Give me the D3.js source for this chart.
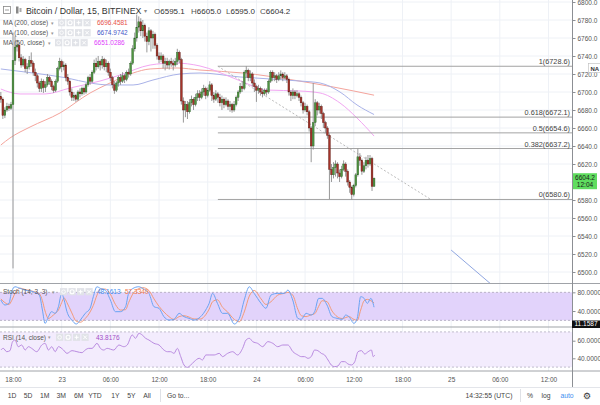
<!DOCTYPE html>
<html><head><meta charset="utf-8">
<script src="https://cdn.jsdelivr.net/npm/d3@7"></script>
<style>
html,body{margin:0;padding:0;background:#fff;}
svg{display:block;font-family:"Liberation Sans",Arial,sans-serif;}
</style></head><body>
<svg id="c" width="600" height="405"></svg>
<script>
// ---------------- DATA ----------------
const firstBarTime = Date.UTC(2018,7,22,16,30); // 15-minute bars
const firstOpen = 6695;
const closes = [6692,6674,6680,6684,6682,6686,6735,6750,6752,6738,6730,6736,6726,6728,6735,6732,6722,6718,6710,6704,
6712,6705,6708,6716,6712,6706,6702,6712,6726,6734,6728,6730,6716,6712,6700,6694,6696,6692,6700,6698,
6704,6700,6708,6716,6712,6722,6732,6728,6734,6730,6736,6728,6732,6722,6716,6708,6702,6710,6716,6712,
6718,6714,6722,6720,6732,6748,6760,6772,6778,6768,6774,6762,6756,6768,6760,6764,6752,6740,6736,6740,
6732,6734,6730,6734,6732,6730,6734,6744,6736,6690,6680,6686,6678,6688,6692,6686,6694,6698,6694,6700,
6704,6696,6702,6708,6696,6692,6698,6694,6688,6692,6686,6690,6684,6686,6680,6686,6694,6700,6706,6704,
6722,6724,6716,6720,6710,6706,6702,6704,6700,6698,6702,6700,6712,6722,6716,6718,6714,6718,6720,6716,
6718,6714,6700,6696,6700,6696,6698,6694,6688,6680,6684,6678,6660,6640,6666,6688,6680,6684,6676,6666,
6660,6652,6614,6608,6616,6620,6610,6606,6614,6620,6612,6600,6594,6586,6596,6608,6628,6624,6612,6618,
6624,6620,6626,6595.1,6604.2];
const highs = [6700,6694,6683,6688,6687,6689,6766,6762,6758,6755,6742,6740,6738,6732,6740,6744,6734,6726,6720,6712,
6715,6714,6712,6720,6718,6714,6708,6714,6728,6738,6736,6734,6732,6720,6714,6704,6700,6698,6702,6704,
6706,6706,6710,6718,6720,6724,6736,6738,6740,6736,6740,6738,6736,6734,6726,6718,6712,6712,6718,6720,
6722,6720,6724,6726,6734,6752,6766,6786,6784,6782,6780,6776,6766,6772,6770,6768,6766,6754,6744,6744,
6742,6738,6738,6736,6738,6736,6738,6748,6746,6738,6694,6690,6690,6692,6696,6694,6698,6702,6702,6704,
6708,6706,6705,6712,6710,6700,6702,6700,6698,6696,6694,6694,6692,6690,6688,6690,6696,6702,6710,6712,
6724,6728.6,6726,6724,6722,6714,6708,6708,6706,6704,6704,6704,6714,6724,6724,6722,6720,6722,6724,6722,
6722,6720,6716,6702,6704,6702,6702,6700,6696,6690,6688,6686,6680,6662,6710,6692,6690,6688,6686,6678,
6668,6662,6654,6620,6622,6624,6622,6614,6618,6624,6622,6614,6602,6596,6598,6610,6637,6632,6626,6622,
6628,6630,6630,6628,6605];
const lows = [6688,6670,6671,6678,6679,6680,6504,6730,6745,6734,6727,6728,6722,6720,6725,6728,6718,6712,6705,6700,
6700,6699,6700,6706,6708,6702,6699,6700,6710,6724,6722,6724,6712,6708,6696,6690,6690,6689,6690,6694,
6696,6697,6698,6706,6708,6710,6720,6724,6726,6724,6726,6724,6722,6718,6712,6704,6698,6700,6706,6708,
6710,6710,6712,6716,6718,6730,6745,6756,6766,6762,6760,6756,6744,6752,6745,6748,6748,6736,6732,6733,
6726,6724,6726,6725,6728,6724,6728,6730,6732,6686,6666,6672,6670,6676,6684,6680,6684,6690,6690,6692,
6696,6692,6694,6700,6690,6688,6690,6688,6684,6680,6682,6684,6680,6678,6677,6678,6684,6690,6698,6700,
6702,6716,6712,6712,6706,6700,6689,6698,6696,6694,6696,6696,6698,6710,6712,6712,6710,6712,6714,6712,
6714,6710,6696,6690,6692,6692,6694,6690,6684,6676,6678,6674,6656,6622,6636,6662,6674,6676,6670,6660,
6654,6648,6581,6600,6604,6606,6604,6600,6604,6612,6606,6596,6588,6580.6,6584,6594,6606,6618,6608,6610,
6614,6616,6618,6590,6595];

// moving averages (sampled at bar positions)
const ma200Bars = [0,4.5,14.4,29.2,44,53.8,65.2,73.6,86.9,98.2,119.4,144.1,163.8,184];
const ma200Vals = [6641.1,6648.9,6661.1,6676.7,6698.9,6710,6721.1,6725.6,6726.7,6724.4,6721.1,6713.3,6705.6,6696.46];
const ma100Bars = [0,15.9,32.6,44,53.8,65.2,75,88.3,98.2,117.9,147.5,157.4,167.2,175.6,184];
const ma100Vals = [6725.6,6721.1,6715.6,6710,6707.8,6707.8,6713.3,6720,6721.1,6716.7,6712.2,6710,6700,6685.6,6674.97];
const ma50Bars = [0,9.5,21.8,34.1,48.9,58.8,73.6,85.9,98.2,114.5,119.4,131.2,147.5,157.4,167.2,175.6,184];
const ma50Vals = [6703.3,6697.8,6697.8,6704.4,6712.2,6718.9,6730,6732.2,6728.9,6715.6,6711.1,6702.2,6701.1,6698.9,6687.8,6671.1,6651.03];

// stochastic (14,3,3)
const stochBars = [0,2,4,5.3,7,9.5,12,16,19,20.5,21.8,23.5,25,26.8,28.4,30,31.2,32.6,35,37.2,
39.2,41.6,44,45.6,47.4,49.1,51.5,54,56.5,59,61.5,63,65,68,70,73,75.5,78,80.4,82.9,
85.4,87.9,90.3,92.8,95.3,98.5,101,102.7,104.4,106.8,109.3,111.8,115.1,117.6,120,122.5,124.9,128.3,130.7,133.2,
136.5,139.8,141.5,143.9,146.4,148.1,150.5,153,154.7,156.7,158.4,160.8,163.3,165.8,168.3,170,171.6,174.1,175.7,177.4,
179.1,180.7,182.4,184];
const stochK = [63.6,52.9,56.4,81.3,91.9,88.4,84.8,81.3,74.2,42.1,13.6,27.9,38.6,35,49.3,77.8,63.6,38.6,20.7,12.2,
20.7,35,45.7,70.7,91.9,88.4,84.8,63.6,38.6,38.6,49.3,77.8,88,92,88,78,49.3,45.7,27.9,20.7,
22.2,35,27.9,24.3,20.7,27.9,42.1,56.4,77.8,56.4,35,35,12.2,24.3,63.6,91.9,77.8,56.4,45.7,74.2,
77.8,77.8,84.8,63.6,24.3,22.2,35,31.4,38.6,67.1,67.1,52.9,27.9,24.3,22.2,31.4,27.9,13.6,24.3,70.7,
67.1,56.4,67.1,48.16];
const stochD = [66,58,54,62,78,89,86,82,77,62,40,24,28,35,42,58,68,58,36,18,
16,24,38,52,74,87,87,76,54,42,43,58,76,88,90,84,66,50,38,28,
22,28,30,27,23,23,32,44,60,64,48,38,22,17,38,72,84,66,54,60,
74,78,80,74,44,30,28,32,34,50,62,60,40,28,24,26,28,22,20,42,
62,65,62,57.33];

// RSI (14, close)
const rsiBars = [0,1.2,2.9,4.5,5.8,7,8.6,10.3,12,13.6,15.2,17.7,20.2,21.8,23.5,25.1,26.8,28.4,30.9,32.6,
35.1,37.5,40,41.6,43.3,45,47.4,49.1,50.7,52.4,55.7,58.2,60.6,62.3,64.8,66.4,68.1,69.7,71.4,73,
75.5,78,80.4,82.1,83.7,85.4,87,88.7,90.3,92,93.6,95.3,97.8,99.4,101.1,102.7,105.2,107.7,109.3,111.8,
114.3,116.7,119.2,120.9,122.5,124.2,126.6,129.1,131.6,134.1,136.5,139,141.5,144,146.4,148.1,149.7,151.4,153,154.7,
156.3,158,159.6,161.3,162.9,164.6,166.2,167.9,169.5,171.2,172.8,174.5,176.1,177.8,179.4,181.1,182.7,183.6,184.4];
const rsiVals = [49.4,51.3,47.5,48.7,58.9,60.8,53.2,55.1,49.4,53.2,51.3,47.5,55.1,57.0,49.4,53.2,47.5,53.2,49.4,45.6,
48.7,47.5,46.4,49.4,51.3,51.3,57.0,51.3,49.4,51.3,49.4,55.1,53.2,55.1,66.5,62.7,68.4,66.5,62.7,60.8,
57.0,55.1,49.4,47.5,47.5,45.6,51.3,41.9,32.4,29.7,32.4,36.2,40.0,38.1,43.8,43.8,43.8,45.6,41.9,45.6,
47.5,43.8,51.3,60.8,62.7,58.9,57.0,53.2,58.9,57.0,53.2,55.1,55.1,47.5,43.8,41.9,41.9,40.0,41.9,49.4,
48.7,45.6,43.8,38.1,32.4,30.5,31.3,36.2,36.2,33.5,32.4,36.2,47.5,48.7,44.9,47.5,49.4,41.9,43.8];

// fibonacci retracement
const fibStart = Date.UTC(2018,7,23,19,15), fibEnd = Date.UTC(2018,7,24,21,30);
const fibHigh = 6728.6, fibLow = 6580.6;
const fibRatios = [1,0.618,0.5,0.382,0];
const fibPrices = [6728.6,6672.1,6654.6,6637.2,6580.6];
// blue trend line drawing
const trendStart = [Date.UTC(2018,7,25,0,0), 6524.4], trendEnd = [Date.UTC(2018,7,25,5,30), 6482];

const priceTicks = d3.range(6500, 6801, 20);
const timeTicks = [[2018,7,22,18],[2018,7,23,0],[2018,7,23,6],[2018,7,23,12],[2018,7,23,18],[2018,7,24,0],
[2018,7,24,6],[2018,7,24,12],[2018,7,24,18],[2018,7,25,0],[2018,7,25,6],[2018,7,25,12]];
const timeLabels = ["18:00","23","06:00","12:00","18:00","24","06:00","12:00","18:00","25","06:00","12:00"];
const rangeButtons = ["1D","5D","1M","3M","6M","YTD","1Y","5Y","All"];
const rangeX = [12,28,44.7,61.3,78.7,95,115.3,131.3,147];
const maLegend = [["MA (200, close)","6696.4581","#e8514a"],["MA (100, close)","6674.9742","#4656c8"],["MA (50, close)","6651.0286","#e040fb"]];
const ohlc = [["O","6595.1"],["H","6605.0"],["L","6595.0"],["C","6604.2"]];

// ---------------- DRAW ----------------
const svg = d3.select('#c');
const PX = 572, MAIN_BOT = 283;
const barMs = 15*60*1000;
const x = d3.scaleUtc().domain([new Date(Date.UTC(2018,7,22,18)), new Date(Date.UTC(2018,7,25,12))]).range([13, 548.5]);
const y = d3.scaleLinear().domain([6500, 6800]).range([272, 2]);
const yS = d3.scaleLinear().domain([0,100]).range([329.7, 283]);
const yR = d3.scaleLinear().domain([30,70]).range([367.1, 331.9]);
const bx = i => x(new Date(firstBarTime + i*barMs));
const tickDates = timeTicks.map(a => new Date(Date.UTC(a[0],a[1],a[2],a[3])));
const last = closes[closes.length-1];

const defs = svg.append('defs');
defs.append('clipPath').attr('id','cm').append('rect').attr('x',0).attr('y',0).attr('width',PX).attr('height',MAIN_BOT);
defs.append('clipPath').attr('id','cs').append('rect').attr('x',0).attr('y',284).attr('width',PX).attr('height',42);
defs.append('clipPath').attr('id','cr').append('rect').attr('x',0).attr('y',328).attr('width',PX).attr('height',42);

// grid
const grid = svg.append('g');
grid.selectAll('.vg').data(tickDates).join('line')
  .attr('x1',d=>x(d)).attr('x2',d=>x(d)).attr('y1',0).attr('y2',371)
  .attr('stroke','#eef1f6').attr('stroke-width',1);
grid.selectAll('.hg').data(priceTicks).join('line')
  .attr('x1',0).attr('x2',PX).attr('y1',d=>y(d)).attr('y2',d=>y(d))
  .attr('stroke','#eef1f6');

// main pane
const main = svg.append('g').attr('clip-path','url(#cm)');
const lineP = (bars, vals) => d3.line().curve(d3.curveMonotoneX)(bars.map((b,k)=>[bx(b), y(vals[k])]));
main.append('path').attr('d', lineP(ma200Bars, ma200Vals)).attr('fill','none').attr('stroke','#f4a49c').attr('stroke-width',1);
main.append('path').attr('d', lineP(ma100Bars, ma100Vals)).attr('fill','none').attr('stroke','#a9b2e8').attr('stroke-width',1);
main.append('path').attr('d', lineP(ma50Bars, ma50Vals)).attr('fill','none').attr('stroke','#f2a6f2').attr('stroke-width',1);

// fib
const fx0 = x(new Date(fibStart)), fx1 = x(new Date(fibEnd));
main.selectAll('.fib').data(fibPrices).join('line')
  .attr('x1',fx0).attr('x2',PX).attr('y1',d=>y(d)).attr('y2',d=>y(d))
  .attr('stroke','#a3a3a3').attr('stroke-width',1);
main.append('line').attr('x1',fx0).attr('y1',y(fibHigh)).attr('x2',fx1).attr('y2',y(fibLow))
  .attr('stroke','#aaa').attr('stroke-width',0.8).attr('stroke-dasharray','2,2');
main.selectAll('.fibt').data(fibPrices).join('text')
  .attr('x',570).attr('y',d=>y(d)-2).attr('text-anchor','end')
  .attr('font-size',7.3).attr('fill','#444')
  .text((d,k)=>fibRatios[k] + '(' + d.toFixed(1) + ')');
// trend line
main.append('line').attr('x1',x(new Date(trendStart[0]))).attr('y1',y(trendStart[1]))
  .attr('x2',x(new Date(trendEnd[0]))).attr('y2',y(trendEnd[1]))
  .attr('stroke','#8fa6e0').attr('stroke-width',1);

// candles
const bars = closes.map((c,i)=>({i, o: i?closes[i-1]:firstOpen, h: highs[i], l: lows[i], c}));
main.selectAll('.wick').data(bars).join('line')
  .attr('x1',d=>bx(d.i)).attr('x2',d=>bx(d.i)).attr('y1',d=>y(d.h)).attr('y2',d=>y(d.l))
  .attr('stroke','#8c8c8c').attr('stroke-width',0.9);
main.selectAll('.body').data(bars).join('rect')
  .attr('x',d=>bx(d.i)-0.9).attr('width',1.8)
  .attr('y',d=>y(Math.max(d.o,d.c)))
  .attr('height',d=>Math.max(0.8, Math.abs(y(d.o)-y(d.c))))
  .attr('fill',d=>d.c>=d.o?'#4f9440':'#a5332a')
  .attr('stroke',d=>d.c>=d.o?'#2e5f2a':'#5b1a13').attr('stroke-width',0.4);

// stoch pane
const st = svg.append('g').attr('clip-path','url(#cs)');
st.append('rect').attr('x',0).attr('width',PX).attr('y',yS(80)).attr('height',yS(20)-yS(80)).attr('fill','#e2d3fb');
[80,20].forEach(v=>st.append('line').attr('x1',0).attr('x2',PX).attr('y1',yS(v)).attr('y2',yS(v))
  .attr('stroke','#a9a4b8').attr('stroke-dasharray','2,2').attr('stroke-width',0.8));
const lineS = (vals, sc, barsArr) => d3.line().curve(d3.curveMonotoneX)(barsArr.map((b,k)=>[bx(b), sc(vals[k])]));
st.append('path').attr('d', lineS(stochD, yS, stochBars)).attr('fill','none').attr('stroke','#f39a78').attr('stroke-width',1);
st.append('path').attr('d', lineS(stochK, yS, stochBars)).attr('fill','none').attr('stroke','#6aa3f3').attr('stroke-width',1);

// rsi pane
const rp = svg.append('g').attr('clip-path','url(#cr)');
rp.append('rect').attr('x',0).attr('width',PX).attr('y',yR(70)).attr('height',yR(30)-yR(70)).attr('fill','#f3ecfd');
[70,30].forEach(v=>rp.append('line').attr('x1',0).attr('x2',PX).attr('y1',yR(v)).attr('y2',yR(v))
  .attr('stroke','#b3aec0').attr('stroke-dasharray','2,2').attr('stroke-width',0.8));
rp.append('path').attr('d', lineS(rsiVals, yR, rsiBars)).attr('fill','none').attr('stroke','#b98ae0').attr('stroke-width',1);

// separators
[[283.5,'#a0a3a8',1.2],[327,'#a0a3a8',1.2],[371,'#a0a3a8',1]].forEach(s=>
  svg.append('line').attr('x1',0).attr('x2',600).attr('y1',s[0]).attr('y2',s[0]).attr('stroke',s[1]).attr('stroke-width',s[2]));
svg.append('line').attr('x1',PX+0.5).attr('x2',PX+0.5).attr('y1',0).attr('y2',387).attr('stroke','#8c8f94').attr('stroke-width',1);
svg.append('line').attr('x1',0).attr('x2',600).attr('y1',387.5).attr('y2',387.5).attr('stroke','#e3e5ea');

// price axis (labels hidden under the last-price box are skipped)
const lblTop = y(last)-5, lblBot = y(last)+11;
const visibleTicks = priceTicks.filter(v => y(v) < lblTop - 2 || y(v) > lblBot + 2);
const pa = svg.append('g').attr('transform',`translate(${PX+0.5},0)`)
  .call(d3.axisRight(y).tickValues(visibleTicks).tickFormat(d3.format('.1f')).tickSize(3).tickPadding(2));
pa.select('.domain').remove();
pa.selectAll('text').attr('font-size',6.5).attr('fill','#555').attr('font-family','Liberation Sans, Arial');
pa.selectAll('line').attr('stroke','#8c8f94');
const sa = svg.append('g').attr('transform',`translate(${PX+0.5},0)`)
  .call(d3.axisRight(yS).tickValues([80,40]).tickFormat(d3.format('.4f')).tickSize(3).tickPadding(2));
sa.select('.domain').remove();
sa.selectAll('text').attr('font-size',6.5).attr('fill','#555').attr('font-family','Liberation Sans, Arial');
sa.selectAll('line').attr('stroke','#8c8f94');
const ra = svg.append('g').attr('transform',`translate(${PX+0.5},0)`)
  .call(d3.axisRight(yR).tickValues([60,40]).tickFormat(d3.format('.4f')).tickSize(3).tickPadding(2));
ra.select('.domain').remove();
ra.selectAll('text').attr('font-size',6.5).attr('fill','#555').attr('font-family','Liberation Sans, Arial');
ra.selectAll('line').attr('stroke','#8c8f94');

// time axis
const ta = svg.append('g').attr('transform','translate(0,371)')
  .call(d3.axisBottom(x).tickValues(tickDates).tickFormat((d,i)=>timeLabels[i]).tickSize(0).tickPadding(6));
ta.select('.domain').remove();
ta.selectAll('text').attr('font-size',6.5).attr('fill','#555').attr('font-family','Liberation Sans, Arial');

// price labels on axis
svg.append('rect').attr('x',573).attr('y',lblTop).attr('width',24).attr('height',16).attr('fill','#5fdd5f');
svg.append('text').attr('x',585).attr('y',y(last)+2.2).attr('text-anchor','middle').attr('font-size',6.5).attr('fill','#1b1b1b').text(last.toFixed(1));
svg.append('text').attr('x',585).attr('y',y(last)+9.2).attr('text-anchor','middle').attr('font-size',6.5).attr('fill','#1b1b1b').text('12:04');
svg.append('rect').attr('x',572).attr('y',320.5).attr('width',28).attr('height',7.5).attr('fill','#111');
svg.append('text').attr('x',586).attr('y',326.4).attr('text-anchor','middle').attr('font-size',6.5).attr('fill','#fff').text('11.1587');
svg.append('rect').attr('x',588.5).attr('y',63.5).attr('width',14).attr('height',9).attr('fill','#fff').attr('stroke','#bbb').attr('stroke-width',0.6);
svg.append('text').attr('x',590.5).attr('y',70.5).attr('font-size',6).attr('font-weight','bold').attr('fill','#333').text('NA');

// header
const hd = svg.append('g');
hd.append('rect').attr('x',3.5).attr('y',6.5).attr('width',7).attr('height',7).attr('fill','#fff').attr('stroke','#888').attr('stroke-width',0.8);
hd.append('line').attr('x1',5).attr('x2',9).attr('y1',10).attr('y2',10).attr('stroke','#888').attr('stroke-width',0.8);
hd.append('rect').attr('x',16).attr('y',6.5).attr('width',2.5).attr('height',7).attr('fill','#888');
hd.append('rect').attr('x',19.5).attr('y',8).attr('width',2).attr('height',4).attr('fill','#aaa');
hd.append('text').attr('x',26).attr('y',13.5).attr('font-size',8.8).attr('fill','#333').text('Bitcoin / Dollar, 15, BITFINEX');
hd.append('text').attr('x',143.5).attr('y',12.5).attr('font-size',6).attr('fill','#888').text('▾');
const ohlcX = [154,191,226,260];
ohlc.forEach((o,k)=>{
  const t = hd.append('text').attr('x',ohlcX[k]).attr('y',13.5).attr('font-size',8);
  t.append('tspan').attr('fill','#555').text(o[0]);
  t.append('tspan').attr('fill','#333').text(o[1]);
});
function icons(g, x0, yc){
  for(let k=0;k<4;k++){
    const xx = x0 + k*8.5;
    g.append('rect').attr('x',xx).attr('y',yc-3.6).attr('width',7.2).attr('height',7.2).attr('fill','#e1e3e8');
    const cx = xx+3.6;
    if(k===0) g.append('circle').attr('cx',cx).attr('cy',yc).attr('r',1.8).attr('fill','none').attr('stroke','#fff').attr('stroke-width',0.8);
    if(k===1) g.append('circle').attr('cx',cx).attr('cy',yc).attr('r',2).attr('fill','none').attr('stroke','#fff').attr('stroke-width',1.1);
    if(k===2){ g.append('line').attr('x1',cx-2).attr('x2',cx+2).attr('y1',yc).attr('y2',yc).attr('stroke','#fff').attr('stroke-width',1);
               g.append('line').attr('x1',cx).attr('x2',cx).attr('y1',yc-2).attr('y2',yc+2).attr('stroke','#fff').attr('stroke-width',1);}
    if(k===3){ g.append('line').attr('x1',cx-1.8).attr('x2',cx+1.8).attr('y1',yc-1.8).attr('y2',yc+1.8).attr('stroke','#fff').attr('stroke-width',1);
               g.append('line').attr('x1',cx-1.8).attr('x2',cx+1.8).attr('y1',yc+1.8).attr('y2',yc-1.8).attr('stroke','#fff').attr('stroke-width',1);}
  }
}
const legY = [22.7,32.7,42.7];
const legIconX = [58,58,55];
maLegend.forEach((m,k)=>{
  hd.append('text').attr('x',3).attr('y',legY[k]+2.3).attr('font-size',6.5).attr('fill','#555').text(m[0]);
  hd.append('text').attr('x',legIconX[k]-7).attr('y',legY[k]+2).attr('font-size',5).attr('fill','#999').text('▾');
  icons(hd, legIconX[k], legY[k]);
  hd.append('text').attr('x',legIconX[k]+39).attr('y',legY[k]+2.3).attr('font-size',6.5).attr('fill',m[2]).text(m[1]);
});
// stoch legend
hd.append('text').attr('x',3).attr('y',294).attr('font-size',6.5).attr('fill','#555').text('Stoch (14, 3, 3)');
hd.append('text').attr('x',52).attr('y',293.7).attr('font-size',5).attr('fill','#999').text('▾');
icons(hd, 60, 291.7);
hd.append('text').attr('x',97).attr('y',294).attr('font-size',6.5).attr('fill','#3d8ef0').text('48.1613');
hd.append('text').attr('x',125).attr('y',294).attr('font-size',6.5).attr('fill','#f2784b').text('57.3349');
// rsi legend
hd.append('text').attr('x',3).attr('y',339.5).attr('font-size',6.5).attr('fill','#555').text('RSI (14, close)');
hd.append('text').attr('x',48).attr('y',339.2).attr('font-size',5).attr('fill','#999').text('▾');
icons(hd, 56, 337.3);
hd.append('text').attr('x',96).attr('y',339.5).attr('font-size',6.5).attr('fill','#a24fc6').text('43.8176');

// bottom toolbar
const tb = svg.append('g').attr('font-size',6.8).attr('fill','#444');
rangeButtons.forEach((b,k)=>tb.append('text').attr('x',rangeX[k]).attr('y',397.5).attr('text-anchor','middle').text(b));
tb.append('line').attr('x1',160.5).attr('x2',160.5).attr('y1',389).attr('y2',402).attr('stroke','#dfe1e6');
tb.append('text').attr('x',167).attr('y',397.5).text('Go to...');
tb.append('text').attr('x',489).attr('y',397.5).attr('text-anchor','middle').text('14:32:55 (UTC)');
tb.append('line').attr('x1',520.5).attr('x2',520.5).attr('y1',389).attr('y2',402).attr('stroke','#dfe1e6');
tb.append('text').attr('x',530).attr('y',397.5).attr('text-anchor','middle').text('%');
tb.append('text').attr('x',546).attr('y',397.5).attr('text-anchor','middle').text('log');
tb.append('text').attr('x',567).attr('y',397.5).attr('text-anchor','middle').attr('fill','#3f8ff0').text('auto');
tb.append('text').attr('x',587).attr('y',398.5).attr('text-anchor','middle').attr('font-size',9).attr('font-family','DejaVu Sans').attr('fill','#333').text('⚙');
</script>
</body></html>
